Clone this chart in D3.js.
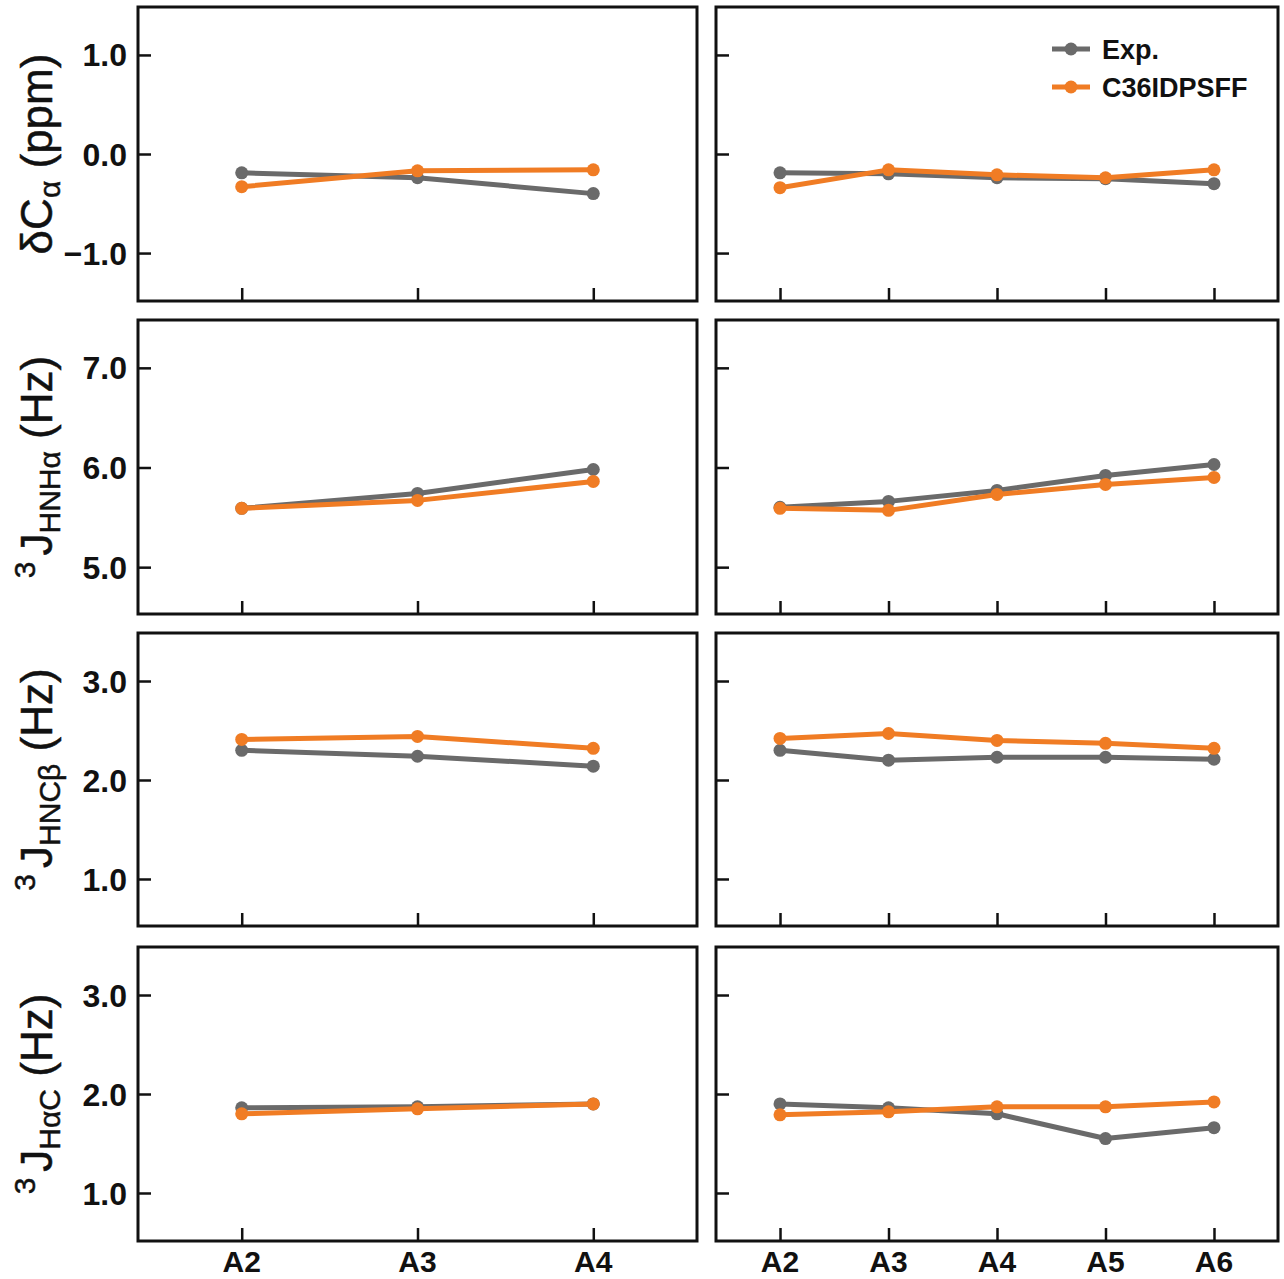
<!DOCTYPE html>
<html><head><meta charset="utf-8">
<script src="https://cdn.jsdelivr.net/npm/d3@7"></script>
<style>body{margin:0;background:#fff}svg{display:block}</style>
</head><body>
<script>
const categoriesLeft = ["A2","A3","A4"];
const categoriesRight = ["A2","A3","A4","A5","A6"];
const seriesNames = ["Exp.","C36IDPSFF"];

const dCaLeftExp  = [-0.19,-0.24,-0.40];
const dCaLeftSim  = [-0.33,-0.17,-0.16];
const dCaRightExp = [-0.19,-0.20,-0.24,-0.25,-0.30];
const dCaRightSim = [-0.34,-0.16,-0.21,-0.24,-0.16];

const hnhaLeftExp  = [5.59,5.74,5.98];
const hnhaLeftSim  = [5.59,5.67,5.86];
const hnhaRightExp = [5.60,5.66,5.77,5.92,6.03];
const hnhaRightSim = [5.59,5.57,5.73,5.83,5.90];

const hncbLeftExp  = [2.30,2.24,2.14];
const hncbLeftSim  = [2.41,2.44,2.32];
const hncbRightExp = [2.30,2.20,2.23,2.23,2.21];
const hncbRightSim = [2.42,2.47,2.40,2.37,2.32];

const hacLeftExp  = [1.86,1.87,1.90];
const hacLeftSim  = [1.80,1.85,1.90];
const hacRightExp = [1.90,1.86,1.80,1.55,1.66];
const hacRightSim = [1.79,1.82,1.87,1.87,1.92];

const yTicks1 = [-1.0, 0.0, 1.0];
const yTicks2 = [5.0, 6.0, 7.0];
const yTicks3 = [1.0, 2.0, 3.0];
const yTicks4 = [1.0, 2.0, 3.0];

const W = 1284, H = 1279;
const colors = ["#6a6a6a", "#f07c24"];
const svg = d3.select("body").append("svg").attr("width", W).attr("height", H);

const cols = [[138, 697], [716, 1278]];
const rows = [[7, 301], [320, 614], [633, 926], [947, 1241]];
const domains = [[-1.484, 1.484], [4.53, 7.48], [0.525, 3.485], [0.515, 3.485]];
const tickSets = [yTicks1, yTicks2, yTicks3, yTicks4];
const rowData = [
  [[dCaLeftExp, dCaLeftSim], [dCaRightExp, dCaRightSim]],
  [[hnhaLeftExp, hnhaLeftSim], [hnhaRightExp, hnhaRightSim]],
  [[hncbLeftExp, hncbLeftSim], [hncbRightExp, hncbRightSim]],
  [[hacLeftExp, hacLeftSim], [hacRightExp, hacRightSim]]
];
const cats = [categoriesLeft, categoriesRight];
const fmt = d3.format(".1f");
const FONT = "'Liberation Sans', Arial, sans-serif";

rows.forEach((r, ri) => {
  const y = d3.scaleLinear().domain(domains[ri]).range([r[1], r[0]]);
  cols.forEach((c, ci) => {
    const x = d3.scalePoint().domain(cats[ci]).range([c[0], c[1]]).padding(0.59);
    const g = svg.append("g");
    const ya = g.append("g").attr("transform", `translate(${c[0]},0)`)
      .call(d3.axisRight(y).tickValues(tickSets[ri]).tickSize(13).tickFormat(""));
    ya.select(".domain").remove();
    ya.selectAll("line").attr("stroke", "#111").attr("stroke-width", 2.5);
    if (ci === 0) {
      tickSets[ri].forEach(v => {
        g.append("text").attr("x", 127).attr("y", y(v)).attr("dy", "0.36em")
          .attr("text-anchor", "end").attr("font-family", FONT).attr("font-weight", "bold")
          .attr("font-size", 32).attr("fill", "#111").text(fmt(v));
      });
    }
    const xa = g.append("g").attr("transform", `translate(0,${r[1]})`)
      .call(d3.axisTop(x).tickSize(13).tickFormat(""));
    xa.select(".domain").remove();
    xa.selectAll("line").attr("stroke", "#111").attr("stroke-width", 2.5);
    if (ri === rows.length - 1) {
      cats[ci].forEach(cn => {
        g.append("text").attr("x", x(cn)).attr("y", 1272).attr("text-anchor", "middle")
          .attr("font-family", FONT).attr("font-weight", "bold").attr("font-size", 30)
          .attr("fill", "#111").text(cn);
      });
    }
    rowData[ri][ci].forEach((vals, si) => {
      const pts = vals.map((v, i) => [x(cats[ci][i]), y(v)]);
      g.append("path").attr("d", d3.line()(pts)).attr("fill", "none")
        .attr("stroke", colors[si]).attr("stroke-width", 5).attr("stroke-linejoin", "round");
      g.selectAll(null).data(pts).enter().append("circle")
        .attr("cx", d => d[0]).attr("cy", d => d[1]).attr("r", 6.5).attr("fill", colors[si]);
    });
    g.append("rect").attr("x", c[0]).attr("y", r[0]).attr("width", c[1] - c[0]).attr("height", r[1] - r[0])
      .attr("fill", "none").attr("stroke", "#111").attr("stroke-width", 3);
  });
});

const lg = svg.append("g");
seriesNames.forEach((nm, i) => {
  const ly = 49 + i * 38;
  lg.append("line").attr("x1", 1052).attr("x2", 1090).attr("y1", ly).attr("y2", ly)
    .attr("stroke", colors[i]).attr("stroke-width", 5);
  lg.append("circle").attr("cx", 1071).attr("cy", ly).attr("r", 6.5).attr("fill", colors[i]);
  lg.append("text").attr("x", 1102).attr("y", ly).attr("dy", "0.36em")
    .attr("font-family", FONT).attr("font-weight", "bold").attr("font-size", 27)
    .attr("fill", "#111").text(nm);
});

const titles = [
  {main: "δC", sub: "α", rest: " (ppm)"},
  {sup: "3", main: "J", sub: "HNHα", rest: " (Hz)"},
  {sup: "3", main: "J", sub: "HNCβ", rest: " (Hz)"},
  {sup: "3", main: "J", sub: "HαC", rest: " (Hz)"}
];
titles.forEach((t, i) => {
  const cy = (rows[i][0] + rows[i][1]) / 2;
  const txt = svg.append("text").attr("transform", `translate(52,${cy}) rotate(-90)`)
    .attr("text-anchor", "middle").attr("font-family", FONT).attr("font-size", 44)
    .attr("fill", "#111").attr("stroke", "#111").attr("stroke-width", 0.5);
  if (t.sup) txt.append("tspan").attr("font-size", 30).attr("dy", -17).text(t.sup + "\u2009");
  txt.append("tspan").attr("dy", t.sup ? 17 : 0).text(t.main);
  txt.append("tspan").attr("font-size", 30).attr("dy", 8).text(t.sub);
  txt.append("tspan").attr("dy", -8).text(t.rest);
});
</script>
</body></html>
